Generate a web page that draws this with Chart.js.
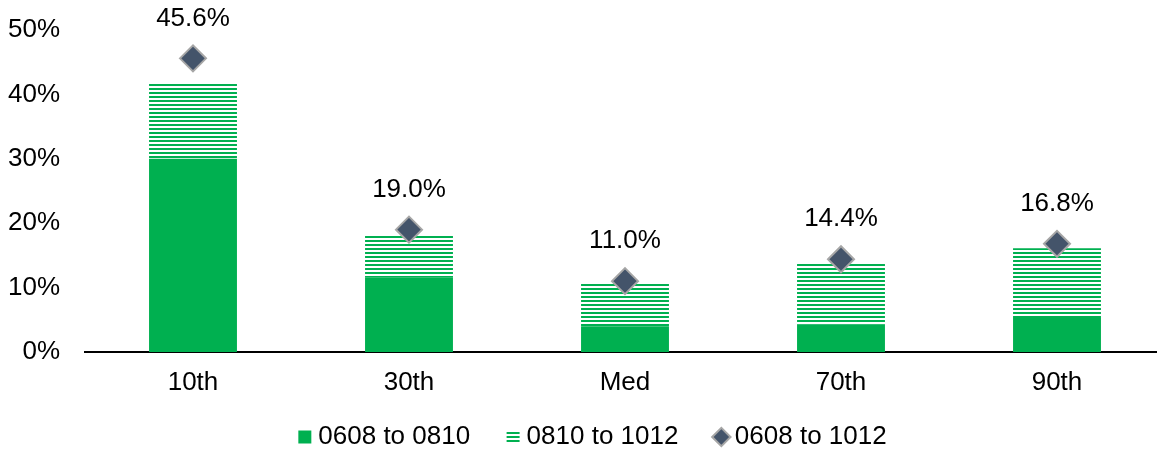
<!DOCTYPE html>
<html lang="en">
<head>
<meta charset="UTF-8">
<title>Percentiles</title>
<script src="https://cdn.jsdelivr.net/npm/chart.js"></script>
<style>
  body { margin: 0; background: #fff; overflow: hidden; }
  #wrap { width: 1165px; height: 450px; }
</style>
</head>
<body>
<div id="wrap"><canvas id="pctChart" width="1165" height="450"></canvas></div>
<script>
const categories = ['10th', '30th', 'Med', '70th', '90th'];
const first = [30.0, 11.6, 4.0, 4.3, 5.6];       // 0608 to 0810
const second = [11.8, 6.4, 6.7, 9.5, 10.5];      // 0810 to 1012
const total = [45.6, 19.0, 11.0, 14.4, 16.8];    // 0608 to 1012
const seriesNames = ['0608 to 0810', '0810 to 1012', '0608 to 1012'];

const green = '#00b050';
const fontFamily = '"Liberation Sans", Arial, sans-serif';

// horizontal line hatch for the second series
function makeHatch() {
    const c = document.createElement('canvas');
    c.width = 8; c.height = 4;
    const g = c.getContext('2d');
    g.fillStyle = '#ffffff';
    g.fillRect(0, 0, 8, 4);
    g.fillStyle = green;
    g.fillRect(0, 0, 8, 2);
    return g.createPattern(c, 'repeat');
}
const hatch = makeHatch();

const valueLabels = {
    id: 'valueLabels',
    afterDatasetsDraw(chart) {
        const meta = chart.getDatasetMeta(2);
        const ctx = chart.ctx;
        ctx.save();
        ctx.font = '26px ' + fontFamily;
        ctx.fillStyle = '#000';
        ctx.textAlign = 'center';
        ctx.textBaseline = 'middle';
        meta.data.forEach((pt, i) => {
            ctx.fillText(total[i].toFixed(1) + '%', pt.x, pt.y - 40);
        });
        ctx.restore();
    }
};

// nudge the legend a little right, like the original
const legendShift = {
    id: 'legendShift',
    afterLayout(chart) {
        chart.legend.left += 18;
    }
};

new Chart(document.getElementById('pctChart').getContext('2d'), {
    data: {
        labels: categories,
        datasets: [
            { type: 'bar', label: seriesNames[0], data: first, backgroundColor: green, borderWidth: 0, stack: 'bars', order: 1 },
            { type: 'bar', label: seriesNames[1], data: second, backgroundColor: hatch, borderWidth: 0, stack: 'bars', order: 1 },
            { type: 'line', label: seriesNames[2], data: total, showLine: false, stack: 'total', order: 0,
              pointStyle: 'rectRot', pointRadius: 13, pointHoverRadius: 13,
              backgroundColor: '#44546a', borderColor: '#a6a6a6', pointBorderWidth: 2 }
        ]
    },
    options: {
        responsive: false,
        animation: false,
        layout: { autoPadding: false, padding: { top: 0, right: 0, left: 8, bottom: -10 } },
        datasets: { bar: { categoryPercentage: 1, barPercentage: 0.407 } },
        scales: {
            x: {
                stacked: true,
                grid: { display: false, drawTicks: false },
                border: { display: true, color: '#000', width: 2 },
                ticks: { color: '#000', padding: 15, font: { family: fontFamily, size: 26 } },
                afterFit(scale) {
                    scale.height = 44;
                    scale.paddingLeft = 0;
                    scale.paddingRight = 0;
                }
            },
            y: {
                stacked: true,
                min: 0, max: 50,
                grid: { display: false, drawTicks: false },
                border: { display: false },
                ticks: { stepSize: 10, color: '#000', padding: 25,
                         font: { family: fontFamily, size: 26 },
                         callback: v => v + '%' },
                afterFit(scale) {
                    scale.width = 77;
                    scale.paddingTop = 30;
                    scale.paddingBottom = 0;
                }
            }
        },
        plugins: {
            tooltip: { enabled: false },
            legend: {
                position: 'bottom',
                labels: {
                    usePointStyle: true,
                    boxWidth: 1, boxHeight: 13,
                    padding: 28,
                    color: '#000',
                    font: { family: fontFamily, size: 26 },
                    sort: (a, b) => a.datasetIndex - b.datasetIndex,
                    generateLabels(chart) {
                        const items = Chart.defaults.plugins.legend.labels.generateLabels(chart);
                        const styles = ['rect', 'rect', 'rectRot'];
                        items.forEach(it => {
                            it.pointStyle = styles[it.datasetIndex];
                            if (it.datasetIndex < 2) {
                                it.lineWidth = 0;
                                it.text = it.text + '  ';
                            }
                        });
                        return items;
                    }
                }
            }
        }
    },
    plugins: [valueLabels, legendShift]
});
</script>
</body>
</html>
